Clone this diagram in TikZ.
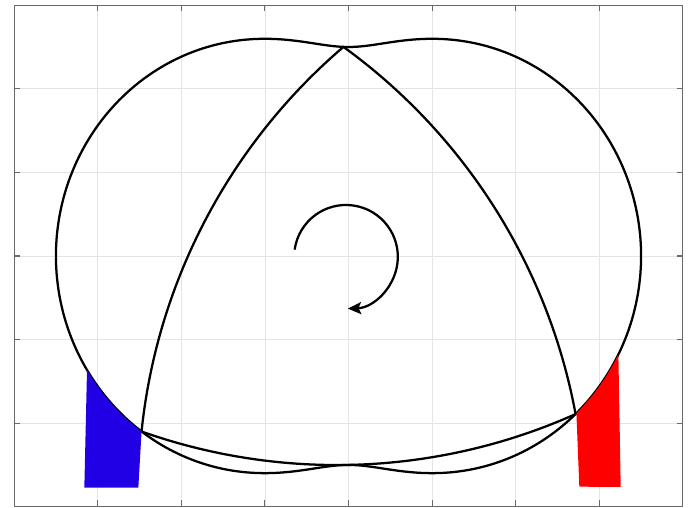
\documentclass[tikz,border=0pt]{standalone}
\usetikzlibrary{arrows.meta}
\definecolor{portblue}{RGB}{34,0,230}
\definecolor{portred}{RGB}{255,0,0}
\definecolor{gridgray}{RGB}{228,228,228}
\definecolor{axgray}{RGB}{105,105,105}
\begin{document}
\begin{tikzpicture}[x=62.7pt,y=62.7pt,
  curve/.style={line width=1.7pt, black},
  gridline/.style={gridgray, line width=0.6pt},
  axline/.style={axgray, line width=0.8pt}]
\useasboundingbox (-4.169,-3.014) rectangle (4.097,3.062);
% grid
\foreach \i in {-3,...,3} { \draw[gridline] (\i,-3) -- (\i,3); }
\foreach \j in {-2,...,2} { \draw[gridline] (-4,\j) -- (4,\j); }
% housing (epitrochoid)
\draw[curve] plot[variable=\t, domain=0:358.5, samples=240, smooth cycle]
  ({3*cos(\t)+0.5*cos(3*\t)},{3*sin(\t)+0.5*sin(3*\t)});
% rotor
\begin{scope}[shift={(0.0601,-0.4964)}, rotate=2.3]
  \draw[curve, line join=round] (90:3)
    arc[start angle=128.21, end angle=171.79, radius=7]
    arc[start angle=248.21, end angle=291.79, radius=7]
    arc[start angle=8.21, end angle=51.79, radius=7] -- cycle;
\end{scope}
% ports
\fill[portblue] plot[variable=\t, domain=198.5:212.3, samples=20]
  ({3*cos(\t)+0.5*cos(3*\t)},{3*sin(\t)+0.5*sin(3*\t)})
  -- (-2.514,-2.77) -- (-3.16,-2.77) -- cycle;
\fill[portred] plot[variable=\t, domain=332.5:344.3, samples=20]
  ({3*cos(\t)+0.5*cos(3*\t)},{3*sin(\t)+0.5*sin(3*\t)})
  -- (3.256,-2.763) -- (2.761,-2.76) -- cycle;
% rotation arrow
\coordinate (rc) at (-0.03,-0.01);
\draw[curve, -{Stealth[length=10pt, width=9pt, inset=2pt]}]
  (rc) ++(172:0.62) arc[start angle=172, end angle=-88, radius=0.62];
% axes box and ticks
\draw[axline] (-4,-3) rectangle (4,3);
\foreach \i in {-3,...,3} {
  \draw[axline] (\i,-3) -- ++(0,0.075);
  \draw[axline] (\i,3) -- ++(0,-0.075);
}
\foreach \j in {-2,...,2} {
  \draw[axline] (-4,\j) -- ++(0.075,0);
  \draw[axline] (4,\j) -- ++(-0.075,0);
}
\end{tikzpicture}
\end{document}
